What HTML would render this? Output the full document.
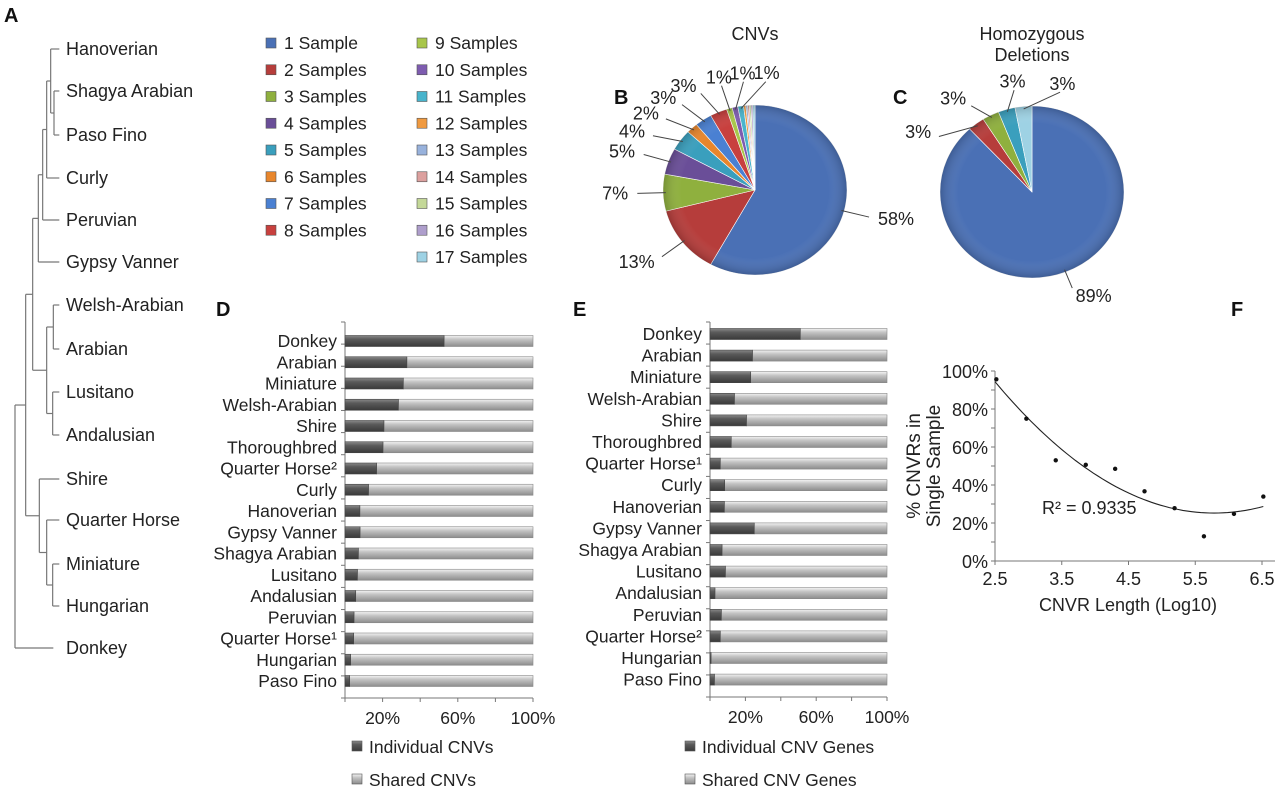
<!DOCTYPE html>
<html><head><meta charset="utf-8">
<style>
html,body{margin:0;padding:0;background:#fff;}
svg{display:block;font-family:"Liberation Sans",Arial,sans-serif;}
</style></head>
<body>
<svg id="fig" width="1280" height="790" viewBox="0 0 1280 790">
<defs>
<linearGradient id="gDark" x1="0" y1="0" x2="0" y2="1"><stop offset="0" stop-color="#8a8a8a"/><stop offset="0.35" stop-color="#5a5a5a"/><stop offset="1" stop-color="#3a3a3a"/></linearGradient>
<linearGradient id="gLight" x1="0" y1="0" x2="0" y2="1"><stop offset="0" stop-color="#f4f4f4"/><stop offset="0.35" stop-color="#c4c4c4"/><stop offset="1" stop-color="#8c8c8c"/></linearGradient>
<radialGradient id="sheen" cx="0.5" cy="0.5" r="0.5"><stop offset="0.8" stop-color="#fff" stop-opacity="0"/><stop offset="1" stop-color="#000" stop-opacity="0.18"/></radialGradient>
</defs>
<g font-weight="bold" font-size="20" fill="#111">
<text x="4" y="22">A</text>
<text x="614" y="104">B</text>
<text x="893" y="104">C</text>
<text x="216" y="316">D</text>
<text x="573" y="316">E</text>
<text x="1231" y="316">F</text>
</g>
<g id="tree"></g>
<g id="legend"></g>
<g id="pieB"></g>
<g id="pieC"></g>
<g id="barD"></g>
<g id="barE"></g>
<g id="scatF"></g>
</svg>
<script>
const NS="http://www.w3.org/2000/svg";
function mk(tag,attrs,parent,txt){const e=document.createElementNS(NS,tag);for(const k in attrs)e.setAttribute(k,attrs[k]);if(txt!==undefined)e.textContent=txt;parent.appendChild(e);return e;}

// ---------- Panel A dendrogram ----------
const treeLeaves=["Hanoverian","Shagya Arabian","Paso Fino","Curly","Peruvian","Gypsy Vanner","Welsh-Arabian","Arabian","Lusitano","Andalusian","Shire","Quarter Horse","Miniature","Hungarian","Donkey"];
const leafY=[49,91,135,178,220,262,305,349,392,435,479,520,564,606,648];
(function(){
  const g=document.getElementById('tree');
  const sx=v=>v/3;
  const segs=[];
  function node(x,children){
    const ys=children.map(c=>c.y);
    const y0=Math.min(...ys),y1=Math.max(...ys);
    segs.push([x,y0,x,y1]);
    children.forEach(c=>segs.push([x,c.y,c.x,c.y]));
    return {x:x,y:(y0+y1)/2};
  }
  const L=i=>({x:178,y:leafY[i]});
  const sp=node(162,[L(1),L(2)]);
  const h=node(152,[L(0),sp]);
  const c=node(140,[h,L(3)]);
  const p=node(128,[c,L(4)]);
  const gy=node(115,[p,L(5)]);
  const wa=node(160,[L(6),L(7)]);
  const la=node(158,[L(8),L(9)]);
  const wl=node(140,[wa,la]);
  const a=node(98,[gy,wl]);
  const mh=node(158,[L(12),L(13)]);
  const qh=node(140,[L(11),mh]);
  const sh=node(118,[L(10),qh]);
  const n1=node(77,[a,sh]);
  node(45,[n1,{x:160,y:leafY[14]}]);
  segs.forEach(s=>{const l=mk('line',{x1:sx(s[0]),y1:s[1],x2:sx(s[2]),y2:s[3],stroke:'#777','stroke-width':1.2},g);
    
    });
  treeLeaves.forEach((n,i)=>{const t=mk('text',{x:66,y:leafY[i]+6,'font-size':18,fill:'#222'},g,n);
    
    });
})();

// ---------- Legend + pies ----------
const sampleLabels=["1 Sample","2 Samples","3 Samples","4 Samples","5 Samples","6 Samples","7 Samples","8 Samples","9 Samples","10 Samples","11 Samples","12 Samples","13 Samples","14 Samples","15 Samples","16 Samples","17 Samples"];
const sampleColors=["#4a70b5","#b63d3b","#8fb03e","#6a4e98","#3a9fbd","#e8862c","#4a80d2","#c8403e","#a8c64a","#7e5cb0","#48b4cc","#f09a40","#98b2dc","#dca09e","#c4d898","#ae9ecc","#9ed2e4"];
const cnvPct=[58,13,7,5,4,2,3,3,1,1,1,0.4,0.3,0.3,0.3,0.3,0.4];
const homPct=[89,3,3,0,3,0,0,0,0,0,0,0,0,0,0,0,3];
(function(){
  const g=document.getElementById('legend');
  sampleLabels.forEach((s,i)=>{
    const col=i<8?0:1,row=i<8?i:i-8;
    const x=col?417:266,y=43+row*26.75;
    const r=mk('rect',{x:x,y:y-5,width:10,height:10,fill:sampleColors[i],stroke:'#555','stroke-width':0.6},g);
    
    
    const t=mk('text',{x:x+18,y:y+6,'font-size':17.5,fill:'#222'},g,s);
    
    
  });
})();
function drawPie(id,vals,cx,cy,rx,ry,title,titleY,labelIdx,sep,lr){
  const g=document.getElementById(id);
  title.forEach((t,k)=>{const e=mk('text',{x:cx,y:titleY+k*21,'text-anchor':'middle','font-size':18,fill:'#222'},g,t);
    
    });
  const tot=vals.reduce((a,b)=>a+b,0);
  let a=0;const mids=[];
  const pt=(ang,f)=>[cx+Math.sin(ang)*rx*f,cy-Math.cos(ang)*ry*f];
  vals.forEach((v,i)=>{
    if(v<=0){mids.push(null);return;}
    const a0=a,a1=a+v/tot*2*Math.PI;a=a1;
    const p0=pt(a0,1),p1=pt(a1,1);
    const large=(a1-a0)>Math.PI?1:0;
    const s=mk('path',{d:`M${cx},${cy}L${p0[0]},${p0[1]}A${rx},${ry} 0 ${large} 1 ${p1[0]},${p1[1]}Z`,fill:sampleColors[i],stroke:'#fff','stroke-width':0.6},g);
    
    
    mids.push((a0+a1)/2);
  });
  mk('ellipse',{cx:cx,cy:cy,rx:rx,ry:ry,fill:'url(#sheen)'},g);
  // labels: relax angular positions so neighbours are at least `sep` apart
  const order=labelIdx.filter(i=>mids[i]!==null);
  // unwrap angles so the cluster around the top is continuous
  const ang=order.map(i=>{let m=mids[i];if(m<Math.PI/3)m+=2*Math.PI;return m;});
  const idx=order.map((_,k)=>k).sort((p,q)=>ang[p]-ang[q]);
  for(let it=0;it<200;it++){
    for(let k=0;k<idx.length-1;k++){
      const p=idx[k],q=idx[k+1];const d=ang[q]-ang[p];
      if(d<sep){const push=(sep-d)/2;ang[p]-=push;ang[q]+=push;}
    }
  }
  order.forEach((i,k)=>{
    const an=ang[k];
    const e=pt(mids[i],0.97),l=pt(an,lr-0.1),tp=pt(an,lr);
    const ln=mk('polyline',{points:`${e[0]},${e[1]} ${l[0]},${l[1]}`,fill:'none',stroke:'#444','stroke-width':1},g);
    
    
    const sn=Math.sin(an);
    const t=mk('text',{x:tp[0],y:tp[1]+6,'text-anchor':sn>0.3?'start':(sn<-0.3?'end':'middle'),'font-size':18,fill:'#222'},g,Math.round(vals[i])+'%');
    
    
  });
}
drawPie('pieB',cnvPct,755,190,92,85,['CNVs'],40,[0,1,2,3,4,5,6,7,8,9,10],0.19,1.38);
drawPie('pieC',homPct,1032,192,92,86,['Homozygous','Deletions'],40,[0,1,2,4,16],0.42,1.3);

// ---------- Panels D & E ----------
const dBreeds=["Donkey","Arabian","Miniature","Welsh-Arabian","Shire","Thoroughbred","Quarter Horse²","Curly","Hanoverian","Gypsy Vanner","Shagya Arabian","Lusitano","Andalusian","Peruvian","Quarter Horse¹","Hungarian","Paso Fino"];
const dIndividual=[52.7,32.9,31,28.4,20.7,20.2,16.8,12.5,7.9,8,7.1,6.6,5.7,4.8,4.6,3,2.5];
const eBreeds=["Donkey","Arabian","Miniature","Welsh-Arabian","Shire","Thoroughbred","Quarter Horse¹","Curly","Hanoverian","Gypsy Vanner","Shagya Arabian","Lusitano","Andalusian","Peruvian","Quarter Horse²","Hungarian","Paso Fino"];
const eIndividual=[51,24,23,13.8,20.6,12,5.8,8.3,8.1,25,6.8,8.7,2.8,6.4,5.8,0.6,2.5];
const pctTicks=[0,20,40,60,80,100];
const pctTickLabels=["","20%","","60%","","100%"];
function drawBars(id,breeds,ind,x0,x1,y0,pitch,axTop,axBot,leg,legX){
  const g=document.getElementById(id);
  const X=v=>x0+(x1-x0)*v/100;
  const Y=i=>y0+i*pitch;
  const h=11;
  mk('line',{x1:x0,y1:axTop,x2:x0,y2:axBot,stroke:'#777','stroke-width':1},g);
  mk('line',{x1:x0,y1:axBot,x2:x1,y2:axBot,stroke:'#777','stroke-width':1},g);
  for(let i=0;i<=breeds.length;i++){const yy=axTop+(axBot-axTop)*i/breeds.length;mk('line',{x1:x0-4,y1:yy,x2:x0,y2:yy,stroke:'#777'},g);}
  pctTicks.forEach((t,k)=>{mk('line',{x1:X(t),y1:axBot,x2:X(t),y2:axBot+4,stroke:'#777'},g);
    if(pctTickLabels[k]){const e=mk('text',{x:X(t),y:axBot+26,'text-anchor':'middle','font-size':17.5,fill:'#222'},g,pctTickLabels[k]);
      
      }});
  breeds.forEach((b,i)=>{
    const y=Y(i);
    const t=mk('text',{x:x0-8,y:y+6,'text-anchor':'end','font-size':17.5,fill:'#222'},g,b);
    
    
    const r2=mk('rect',{x:X(ind[i]),y:y-h/2,width:X(100)-X(ind[i]),height:h,fill:'url(#gLight)',stroke:'#888','stroke-width':0.6},g);
    
    
    const r1=mk('rect',{x:X(0),y:y-h/2,width:X(ind[i])-X(0),height:h,fill:'url(#gDark)',stroke:'#444','stroke-width':0.6},g);
    
    
  });
  leg.forEach((l,k)=>{const ly=747+k*33;
    const s=mk('rect',{x:legX,y:ly-6,width:10,height:10,fill:k?'url(#gLight)':'url(#gDark)',stroke:'#555','stroke-width':0.6},g);
    
    
    const t=mk('text',{x:legX+17,y:ly+6,'font-size':17.5,fill:'#222'},g,l);
    
    });
}
drawBars('barD',dBreeds,dIndividual,345,533,341,21.25,322,698,["Individual CNVs","Shared CNVs"],352);
drawBars('barE',eBreeds,eIndividual,710,887,334,21.6,322,697,["Individual CNV Genes","Shared CNV Genes"],685);

// ---------- Panel F ----------
const fX=[2.52,2.97,3.41,3.86,4.30,4.74,5.19,5.63,6.08,6.52];
const fY=[95.6,74.9,53.0,50.6,48.5,36.7,27.8,13.0,24.8,33.9];
const fXTicks=[2.5,3.5,4.5,5.5,6.5];
const fYTicks=[0,20,40,60,80,100];
(function(){
  const g=document.getElementById('scatF');
  const X=v=>995+(v-2.5)*(1262-995)/4;
  const Y=v=>561-(v)*(561-371)/100;
  mk('line',{x1:995,y1:371,x2:995,y2:561,stroke:'#777'},g);
  mk('line',{x1:995,y1:561,x2:1275,y2:561,stroke:'#777'},g);
  for(let v=0;v<=100;v+=10)mk('line',{x1:991,y1:Y(v),x2:995,y2:Y(v),stroke:'#777'},g);
  fYTicks.forEach(v=>{const t=mk('text',{x:988,y:Y(v)+7,'text-anchor':'end','font-size':18,fill:'#222'},g,v+'%');
    
    });
  fXTicks.forEach(v=>{mk('line',{x1:X(v),y1:561,x2:X(v),y2:565,stroke:'#777'},g);
    const t=mk('text',{x:X(v),y:585,'text-anchor':'middle','font-size':18,fill:'#222'},g,v.toFixed(1));
    
    });
  const xt=mk('text',{x:1128,y:611,'text-anchor':'middle','font-size':18,fill:'#222'},g,'CNVR Length (Log10)');
  
  
  const yt=mk('text',{transform:'translate(938,466) rotate(-90)','text-anchor':'middle','font-size':19,fill:'#222'},g);
  
  
  mk('tspan',{x:0,y:-18},yt,'% CNVRs in');
  mk('tspan',{x:0,y:2},yt,'Single Sample');
  const n=fX.length;let S=[0,0,0,0,0],T=[0,0,0];
  for(let i=0;i<n;i++){const x=fX[i],y=fY[i];for(let k=0;k<5;k++)S[k]+=Math.pow(x,k);for(let k=0;k<3;k++)T[k]+=y*Math.pow(x,k);}
  const A=[[S[0],S[1],S[2],T[0]],[S[1],S[2],S[3],T[1]],[S[2],S[3],S[4],T[2]]];
  for(let i=0;i<3;i++){for(let j=i+1;j<3;j++){const f=A[j][i]/A[i][i];for(let k=i;k<4;k++)A[j][k]-=f*A[i][k];}}
  const c=[0,0,0];for(let i=2;i>=0;i--){let s=A[i][3];for(let k=i+1;k<3;k++)s-=A[i][k]*c[k];c[i]=s/A[i][i];}
  let d='';const xa=fX[0]-0.02,xb=fX[n-1];
  for(let k=0;k<=60;k++){const x=xa+(xb-xa)*k/60;const y=c[0]+c[1]*x+c[2]*x*x;d+=(k?'L':'M')+X(x).toFixed(1)+','+Y(y).toFixed(1);}
  const tl=mk('path',{d:d,fill:'none',stroke:'#222','stroke-width':1.1},g);
  
  
  fX.forEach((x,i)=>{const p=mk('circle',{cx:X(x),cy:Y(fY[i]),r:2.2,fill:'#111'},g);
    
    });
  const r=mk('text',{x:1042,y:514,'font-size':18,fill:'#222'},g,'R² = 0.9335');
  
  
})();
</script>
</body></html>
